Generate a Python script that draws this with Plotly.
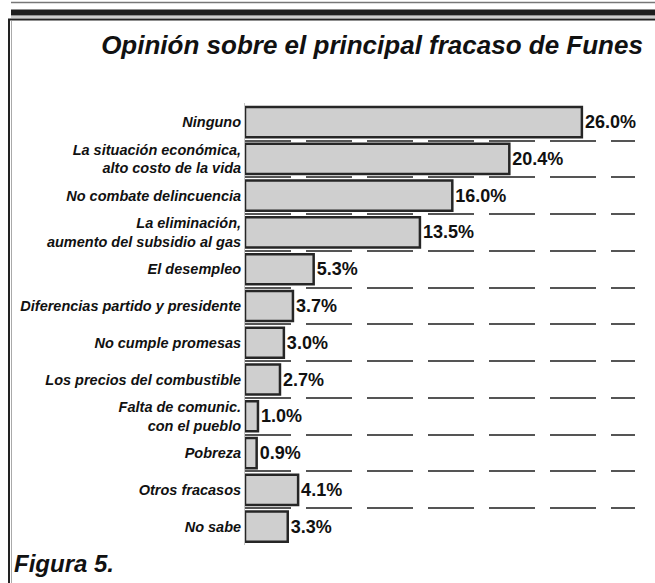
import plotly.graph_objects as go

categories = [
    "Ninguno",
    "La situación económica,<br>alto costo de la vida",
    "No combate delincuencia",
    "La eliminación,<br>aumento del subsidio al gas",
    "El desempleo",
    "Diferencias partido y presidente",
    "No cumple promesas",
    "Los precios del combustible",
    "Falta de comunic.<br>con el pueblo",
    "Pobreza",
    "Otros fracasos",
    "No sabe",
]
values = [26.0, 20.4, 16.0, 13.5, 5.3, 3.7, 3.0, 2.7, 1.0, 0.9, 4.1, 3.3]

W, H = 655, 583
L, R, T, B = 245, 20, 103, 38
pw, ph = W - L - R, H - T - B


def px(x):
    return (x - L) / pw


def py(y):
    return (H - B - y) / ph


positions = list(range(len(categories)))

fig = go.Figure(go.Bar(
    x=values, y=positions, orientation="h", width=0.82,
    marker=dict(color="#cfcfcf", line=dict(color="#262626", width=2.5)),
    texttemplate="<b>%{x:.1f}%</b>", textposition="outside", cliponaxis=False,
    textfont=dict(family="Liberation Sans Narrow, Arial Narrow, Liberation Sans",
                  size=18, color="#111"),
))

# frame decoration
shapes = [
    dict(type="line", x0=px(11), x1=px(W), y0=py(2.5), y1=py(2.5),
         line=dict(color="#777", width=1.5)),
    dict(type="rect", x0=px(11), x1=px(W), y0=py(15.5), y1=py(9.5),
         fillcolor="#1e1e1e", line=dict(width=0)),
    dict(type="line", x0=px(11), x1=px(W), y0=py(17), y1=py(17),
         line=dict(color="#999", width=1)),
    dict(type="line", x0=px(8), x1=px(W), y0=py(19.5), y1=py(19.5),
         line=dict(color="#222", width=2)),
    dict(type="line", x0=px(9), x1=px(9), y0=py(H), y1=py(19.5),
         line=dict(color="#222", width=2)),
    dict(type="line", x0=px(11.5), x1=px(11.5), y0=py(H), y1=py(21),
         line=dict(color="#aaa", width=1)),
]
for s in shapes:
    s.update(xref="paper", yref="paper", layer="above")

fig.update_layout(
    width=W, height=H,
    margin=dict(l=L, r=R, t=T, b=B, pad=0),
    plot_bgcolor="white", paper_bgcolor="white",
    showlegend=False,
    font=dict(family="Liberation Sans, Arial", color="#111"),
    title=dict(text="<b><i>Opinión sobre el principal fracaso de Funes</i></b>",
               x=0.568, xref="container", xanchor="center",
               y=1 - 45 / H, yref="container", yanchor="middle",
               font=dict(size=26, color="#111")),
    xaxis=dict(range=[0, 30.1], visible=False, showgrid=False, zeroline=False),
    yaxis=dict(
        range=[11.5, -0.52], tickvals=positions,
        ticktext=["<b><i>%s</i></b>" % c for c in categories],
        tickfont=dict(size=14.5, color="#111"),
        showgrid=False, zeroline=False, ticks="", automargin=False,
        showline=True, linecolor="#c4c4c4", linewidth=1,
        minor=dict(tickvals=[p - 0.5 for p in positions], showgrid=True,
                   gridcolor="#555", gridwidth=1.5, griddash="46px,15px"),
    ),
    shapes=shapes,
    annotations=[dict(text="<b><i>Figura 5.</i></b>", xref="paper", yref="paper",
                      x=px(12), y=py(563), xanchor="left", yanchor="middle",
                      showarrow=False, font=dict(size=24, color="#111"))],
)

fig.write_html("out.html", config={"displayModeBar": False},
               post_script="document.body.style.margin='0';")
